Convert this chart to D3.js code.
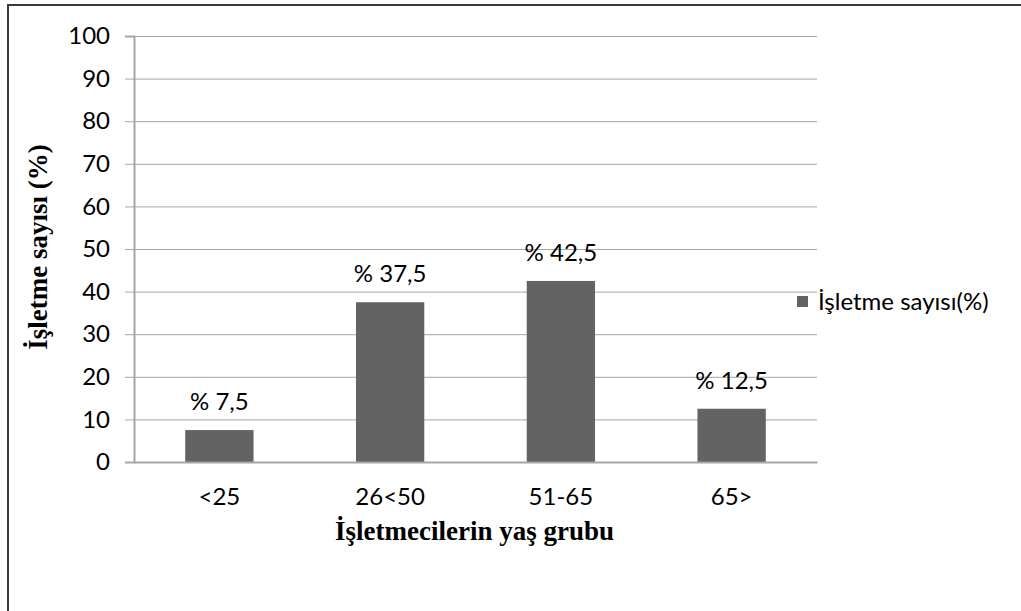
<!DOCTYPE html>
<html>
<head>
<meta charset="utf-8">
<script src="https://cdn.jsdelivr.net/npm/d3@7"></script>
<style>
  body { margin: 0; background: #fff; }
  svg { display: block; }
</style>
</head>
<body>
<div id="chart"></div>
<script>
// data
var categories = ["<25", "26<50", "51-65", "65>"];
var values = [7.5, 37.5, 42.5, 12.5];
var valueLabels = ["% 7,5", "% 37,5", "% 42,5", "% 12,5"];
var yTicks = [0, 10, 20, 30, 40, 50, 60, 70, 80, 90, 100];
var seriesName = "İşletme sayısı(%)";

var W = 1021, H = 611;
var margin = {top: 36, right: 204, bottom: 149, left: 134},
    width = W - margin.left - margin.right,
    height = H - margin.top - margin.bottom;

var sansFont = "Lato, 'Open Sans', sans-serif";
var serifFont = "'Liberation Serif', 'Times New Roman', serif";
var fs = "24px";

var svg = d3.select("#chart")
  .append("svg")
    .attr("width", W)
    .attr("height", H);

// outer frame (runs off right/bottom edges)
svg.append("rect")
  .attr("x", 8)
  .attr("y", 5)
  .attr("width", W + 20)
  .attr("height", H + 20)
  .attr("fill", "none")
  .attr("stroke", "#3a3a3a")
  .attr("stroke-width", 2);

var g = svg.append("g")
  .attr("transform", "translate(" + margin.left + "," + margin.top + ")");

var x = d3.scaleBand()
  .domain(categories)
  .range([0, width])
  .paddingInner(0.6)
  .paddingOuter(0.3);

var y = d3.scaleLinear()
  .domain([0, 100])
  .range([height, 0]);

// gridlines
g.append("g")
  .selectAll("line")
  .data(yTicks.filter(function(d){ return d > 0; }))
  .enter()
  .append("line")
    .attr("x1", 0)
    .attr("x2", width)
    .attr("y1", function(d){ return y(d) + 0.5; })
    .attr("y2", function(d){ return y(d) + 0.5; })
    .attr("stroke", "#a6a6a6")
    .attr("stroke-width", 1);

// y axis
var yAxis = g.append("g")
  .call(d3.axisLeft(y).tickValues(yTicks).tickSize(9).tickPadding(15));
yAxis.select(".domain").attr("stroke", "#a6a6a6").attr("stroke-width", 2);
yAxis.selectAll(".tick line").attr("stroke", "#a6a6a6");
yAxis.selectAll("text")
  .style("font-family", sansFont)
  .style("font-size", fs)
  .attr("fill", "#000");

// bars
g.selectAll(".bar")
  .data(values)
  .enter()
  .append("rect")
    .attr("class", "bar")
    .attr("x", function(d, i){ return x(categories[i]); })
    .attr("width", x.bandwidth())
    .attr("y", function(d){ return y(d); })
    .attr("height", function(d){ return height - y(d); })
    .attr("fill", "#636363");

// value labels
g.selectAll(".vlabel")
  .data(values)
  .enter()
  .append("text")
    .attr("class", "vlabel")
    .attr("x", function(d, i){ return x(categories[i]) + x.bandwidth() / 2; })
    .attr("y", function(d){ return y(d) - 20; })
    .attr("text-anchor", "middle")
    .style("font-family", sansFont)
    .style("font-size", fs)
    .text(function(d, i){ return valueLabels[i]; });

// x axis baseline
var xAxis = g.append("g")
  .attr("transform", "translate(0," + height + ")")
  .call(d3.axisBottom(x).tickSize(0).tickPadding(26));
xAxis.select(".domain").attr("stroke", "#a6a6a6").attr("stroke-width", 2);
xAxis.selectAll("text")
  .style("font-family", sansFont)
  .style("font-size", fs)
  .attr("fill", "#000");

// axis titles
svg.append("text")
  .attr("x", margin.left + width / 2 - 1)
  .attr("y", 540)
  .attr("text-anchor", "middle")
  .style("font-family", serifFont)
  .style("font-weight", "bold")
  .style("font-size", "27px")
  .text("İşletmecilerin yaş grubu");

svg.append("text")
  .attr("transform", "translate(47,247) rotate(-90)")
  .attr("text-anchor", "middle")
  .style("font-family", serifFont)
  .style("font-weight", "bold")
  .style("font-size", "27px")
  .text("İşletme sayısı (%)");

// legend
var legend = svg.append("g")
  .attr("transform", "translate(797,296)");
legend.append("rect")
  .attr("width", 11)
  .attr("height", 11)
  .attr("fill", "#636363");
legend.append("text")
  .attr("x", 21)
  .attr("y", 6)
  .attr("dy", "0.35em")
  .style("font-family", sansFont)
  .style("font-size", fs)
  .text(seriesName);
</script>
</body>
</html>
